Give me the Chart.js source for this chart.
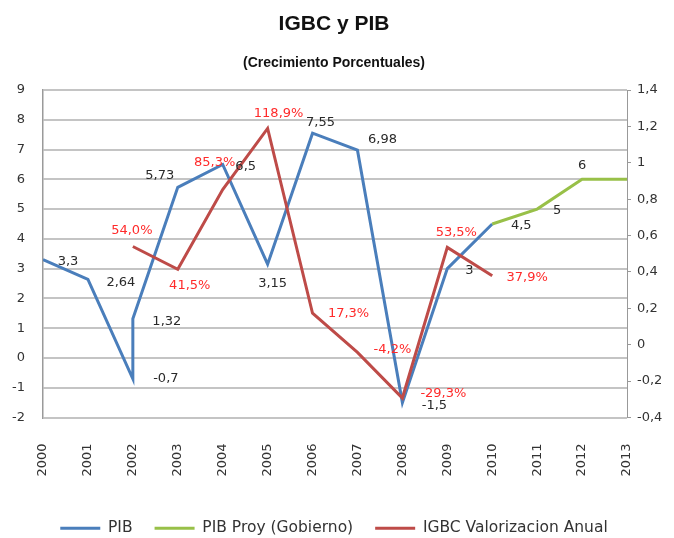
<!DOCTYPE html>
<html>
<head>
<meta charset="utf-8">
<script src="https://cdn.jsdelivr.net/npm/chart.js@4"></script>
<style>
  body { margin: 0; background: #fff; }
  canvas { display: block; }
</style>
</head>
<body>
<canvas id="chart" width="674" height="538"></canvas>
<script>
// --- data ---
const pibYears = [2000, 2001, 2002, 2002, 2003, 2004, 2005, 2006, 2007, 2008, 2009, 2010];
const pibValues = [3.3, 2.64, -0.7, 1.32, 5.73, 6.5, 3.15, 7.55, 6.98, -1.5, 3, 4.5];

const proyYears = [2010, 2011, 2012, 2013];
const proyValues = [4.5, 5, 6, 6];
const proyLabels = ['', '5', '6', ''];

const igbcYears = [2002, 2003, 2004, 2005, 2006, 2007, 2008, 2009, 2010];
const igbcValues = [0.54, 0.415, 0.853, 1.189, 0.173, -0.042, -0.293, 0.535, 0.379];

const leftTicks = { min: -2, max: 9, step: 1 };
const rightTicks = { min: -0.4, max: 1.4, step: 0.2 };
const yearRange = { min: 2000, max: 2013 };

const comma = v => String(v).replace('.', ',');
const pct = v => (v * 100).toFixed(1).replace('.', ',') + '%';

// label offsets from the point, in px (dataset index -> per point)
const labelOffsets = {
    0: [[25, 2], [33, 3], [33, 0], [34, 3], [-18, -12], [23, 2], [5, 19], [8, -11], [25, -11], [32, 3], [22, 2], [29, 2]],
    1: [[0, 0], [20, 2], [0, -14], [0, 0]],
    2: [[-1, -16], [12, 16], [-8, -27], [11, -15], [36, 0], [35, -3], [41, -4], [9, -15], [35, 2]]
};

const fontFamily = "'DejaVu Sans', sans-serif";

const pointLabels = {
    id: 'pointLabels',
    afterDatasetsDraw(chart) {
        const ctx = chart.ctx;
        ctx.save();
        ctx.font = '13px ' + fontFamily;
        ctx.textAlign = 'center';
        ctx.textBaseline = 'middle';
        chart.data.datasets.forEach((ds, i) => {
            const meta = chart.getDatasetMeta(i);
            ctx.fillStyle = ds.labelColor;
            meta.data.forEach((pt, j) => {
                const txt = ds.pointText[j];
                if (!txt) return;
                const off = labelOffsets[i][j] || [0, 0];
                ctx.fillText(txt, pt.x + off[0], pt.y + off[1]);
            });
        });
        ctx.restore();
    }
};

const toPoints = (xs, ys) => xs.map((x, i) => ({ x: x, y: ys[i] }));

new Chart(document.getElementById('chart'), {
    type: 'line',
    data: {
        datasets: [
            {
                label: 'PIB',
                data: toPoints(pibYears, pibValues),
                borderColor: '#4a7ebb',
                backgroundColor: '#4a7ebb',
                borderWidth: 3,
                yAxisID: 'y',
                order: 2,
                pointText: pibValues.map(comma),
                labelColor: '#2a2a2a'
            },
            {
                label: 'PIB Proy (Gobierno)',
                data: toPoints(proyYears, proyValues),
                borderColor: '#98c048',
                backgroundColor: '#98c048',
                borderWidth: 3,
                yAxisID: 'y',
                order: 1,
                pointText: proyLabels,
                labelColor: '#2a2a2a'
            },
            {
                label: 'IGBC Valorizacion Anual',
                data: toPoints(igbcYears, igbcValues),
                borderColor: '#be4b48',
                backgroundColor: '#be4b48',
                borderWidth: 3,
                yAxisID: 'y1',
                order: 0,
                pointText: igbcValues.map(pct),
                labelColor: '#ff2a2a'
            }
        ]
    },
    options: {
        responsive: false,
        animation: false,
        elements: { point: { radius: 0 }, line: { tension: 0 } },
        layout: { padding: { left: 0, right: 6, top: 8, bottom: -8 } },
        plugins: {
            title: {
                display: true,
                text: 'IGBC y PIB',
                color: '#111',
                font: { family: "'Liberation Sans', sans-serif", size: 21, weight: 'bold' },
                padding: { top: 4, bottom: 14 }
            },
            subtitle: {
                display: true,
                text: '(Crecimiento Porcentuales)',
                color: '#111',
                font: { family: "'Liberation Sans', sans-serif", size: 14, weight: 'bold' },
                padding: { top: 4, bottom: 18 }
            },
            legend: {
                position: 'bottom',
                labels: {
                    usePointStyle: true,
                    pointStyle: 'line',
                    pointStyleWidth: 40,
                    padding: 22,
                    color: '#333',
                    font: { family: fontFamily, size: 15.5 },
                    sort: (a, b) => a.datasetIndex - b.datasetIndex
                }
            },
            tooltip: { enabled: false }
        },
        scales: {
            x: {
                type: 'linear',
                min: yearRange.min,
                max: yearRange.max,
                grid: { display: false },
                border: { display: false },
                ticks: {
                    stepSize: 1,
                    autoSkip: false,
                    minRotation: 90,
                    maxRotation: 90,
                    padding: 18,
                    color: '#333',
                    font: { family: fontFamily, size: 13 },
                    callback: v => String(v)
                },
                afterFit: s => { s.height = 81; }
            },
            y: {
                position: 'left',
                min: leftTicks.min,
                max: leftTicks.max,
                grid: { color: '#c4c4c4', lineWidth: 2, drawTicks: false },
                border: { color: '#9a9a9a', width: 1.5 },
                ticks: {
                    stepSize: leftTicks.step,
                    padding: 18,
                    color: '#333',
                    font: { family: fontFamily, size: 13 },
                    callback: v => comma(v)
                },
                afterFit: s => { s.width = 43; }
            },
            y1: {
                position: 'right',
                min: rightTicks.min,
                max: rightTicks.max,
                grid: { drawOnChartArea: false, tickLength: 4, color: '#999' },
                border: { color: '#999', dash: [2, 1] },
                ticks: {
                    stepSize: rightTicks.step,
                    padding: 6,
                    color: '#333',
                    font: { family: fontFamily, size: 13 },
                    callback: v => comma(Number(v.toFixed(1)))
                },
                afterFit: s => { s.width = 41; }
            }
        }
    },
    plugins: [pointLabels]
});
</script>
</body>
</html>
